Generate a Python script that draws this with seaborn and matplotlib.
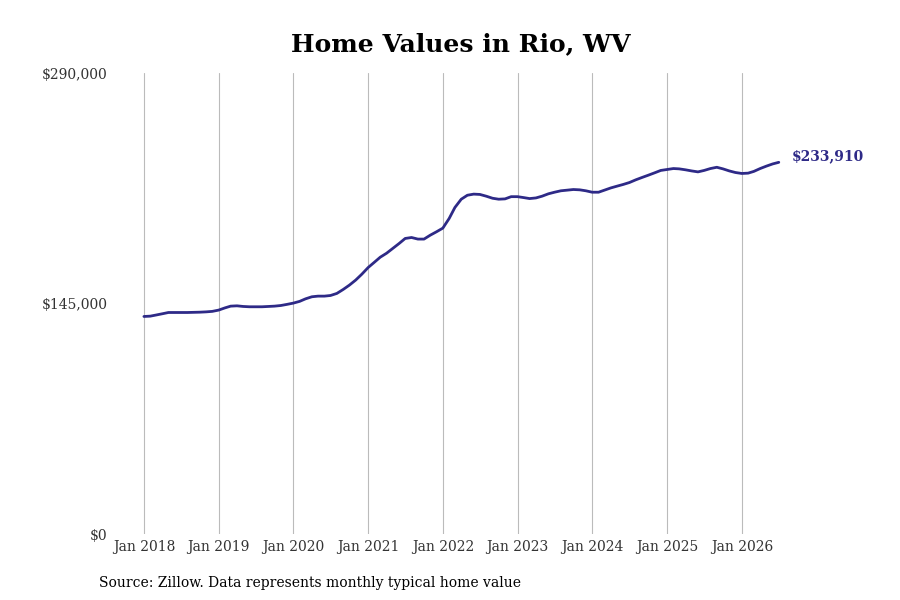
import pandas as pd
import seaborn as sns
import matplotlib.pyplot as plt
from matplotlib.ticker import FuncFormatter

# valores mensais (jan/2018 a jul/2026)
valores_2018 = [136900, 137100, 137800, 138600, 139400, 139400, 139400, 139400, 139500, 139600, 139800, 140100]
valores_2019 = [140900, 142300, 143400, 143600, 143200, 143000, 143000, 143000, 143200, 143400, 143800, 144500]
valores_2020 = [145300, 146400, 148000, 149300, 149700, 149700, 150100, 151400, 153900, 156600, 159800, 163500]
valores_2021 = [167700, 171100, 174200, 176700, 179700, 182800, 186000, 186600, 185600, 185600, 188100, 190200]
valores_2022 = [192500, 198600, 205500, 210700, 213200, 213900, 213700, 212600, 211300, 210700, 210900, 212300]
valores_2023 = [212300, 211700, 211100, 211500, 212600, 214100, 215100, 216000, 216400, 216800, 216600, 216000]
valores_2024 = [215100, 215100, 216400, 217800, 218900, 220000, 221200, 222900, 224400, 225800, 227300, 228800]
valores_2025 = [229400, 230000, 229800, 229200, 228500, 227900, 228800, 230000, 230800, 229800, 228500, 227500]
valores_2026 = [226900, 227100, 228200, 230000, 231500, 232900, 233910]

valores = (valores_2018 + valores_2019 + valores_2020 + valores_2021 + valores_2022
           + valores_2023 + valores_2024 + valores_2025 + valores_2026)
datas = pd.date_range("2018-01-01", periods=len(valores), freq="MS")
anos = pd.date_range("2018-01-01", "2026-01-01", freq="YS")
rotulos_x = [f"Jan {d.year}" for d in anos]
ticks_y = [0, 145000, 290000]

df = pd.DataFrame({"data": datas, "valor": valores})

sns.set_theme(style="white")
plt.rcParams['font.family'] = ['DejaVu Serif']

fig = plt.figure(figsize=(9, 6), dpi=100)
ax = fig.add_axes([0.1283, 0.11, 0.775, 0.768])

sns.lineplot(data=df, x="data", y="valor", ax=ax, color="#2e2a87", linewidth=2.0)

ax.set_ylim(0, 290000)
ax.set_xlim(pd.Timestamp("2017-08-15"), pd.Timestamp("2026-12-15"))
ax.set_yticks(ticks_y)
ax.yaxis.set_major_formatter(FuncFormatter(lambda v, p: f"${v:,.0f}"))
ax.set_xticks(anos)
ax.set_xticklabels(rotulos_x)
ax.tick_params(axis="both", labelsize=10, colors="#333333", length=0)
ax.tick_params(axis="x", pad=4)
ax.tick_params(axis="y", pad=5.7)
ax.grid(axis="x", color="#bbbbbb", linewidth=0.8)
ax.grid(axis="y", visible=False)
sns.despine(ax=ax, left=True, bottom=True)
ax.set_xlabel("")
ax.set_ylabel("")

ax.annotate(f"${valores[-1]:,}", xy=(datas[-1], valores[-1]), xytext=(9, 4.7),
            textcoords="offset points", color="#2e2a87", fontsize=10,
            fontweight="bold", va="center", ha="left", annotation_clip=False)

fig.suptitle("Home Values in Rio, WV", fontsize=18, fontweight="bold",
             x=0.5125, y=0.947, color="black")
fig.text(0.11, 0.022, "Source: Zillow. Data represents monthly typical home value",
         fontsize=10, color="black")

fig.savefig("out.png", dpi=100)
